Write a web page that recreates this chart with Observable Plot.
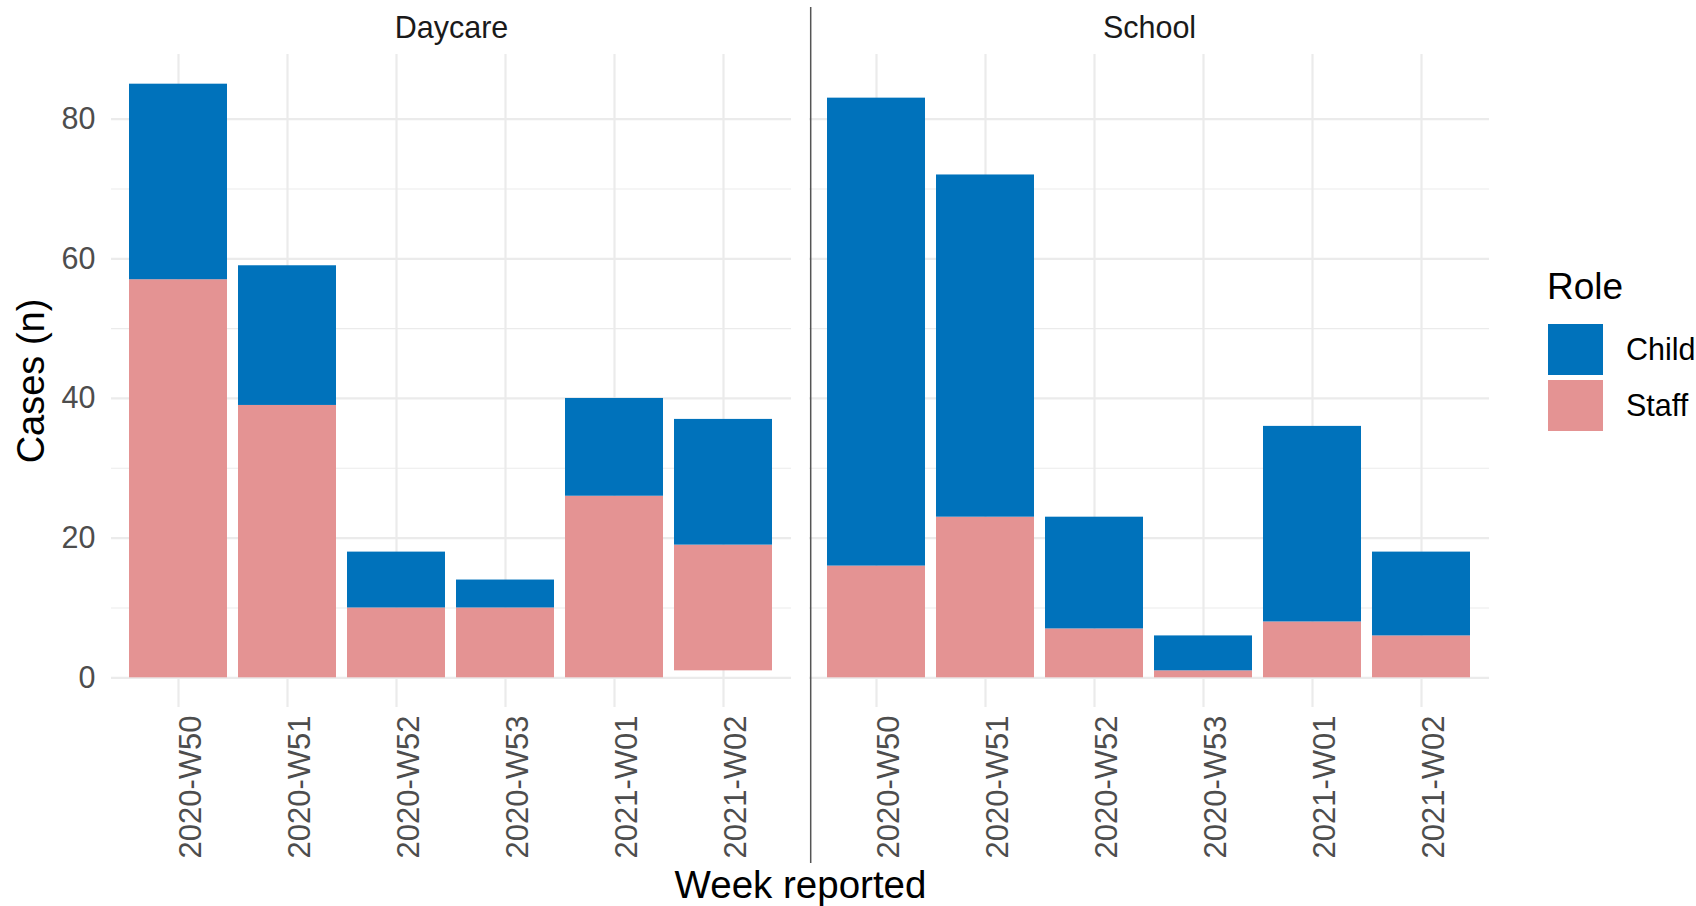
<!DOCTYPE html>
<html><head><meta charset="utf-8">
<script src="https://cdn.jsdelivr.net/npm/d3@7"></script>
<script src="https://cdn.jsdelivr.net/npm/@observablehq/plot@0.6"></script>
<style>
html,body{margin:0;padding:0;background:#fff;}
#wrap{position:relative;width:1696px;height:906px;font-family:"Liberation Sans",Arial,sans-serif;}
#wrap svg{position:absolute;left:0;top:0;}
.lg{position:absolute;white-space:nowrap;}
</style></head><body><div id="wrap"></div>
<script>
// ---- data ----
const settings = ["Daycare", "School"];
const weeks = ["2020-W50", "2020-W51", "2020-W52", "2020-W53", "2021-W01", "2021-W02"];
const legendRoles = ["Child", "Staff"];
const stackOrder = ["Not reported", "Staff", "Child"];
const daycareNotReported = [0, 0, 0, 0, 0, 1];
const daycareStaff = [57, 39, 10, 10, 26, 18];
const daycareChild = [28, 20, 8, 4, 14, 18];
const schoolNotReported = [0, 0, 0, 0, 0, 0];
const schoolStaff = [16, 23, 7, 1, 8, 6];
const schoolChild = [67, 49, 16, 5, 28, 12];
const yMajorTicks = [0, 20, 40, 60, 80];
const yMinorTicks = [10, 30, 50, 70];

const childColor = "#0072bb";
const staffColor = "#e49393";

const series = {
  Daycare: {"Not reported": daycareNotReported, Staff: daycareStaff, Child: daycareChild},
  School: {"Not reported": schoolNotReported, Staff: schoolStaff, Child: schoolChild}
};
const data = [];
for (const s of settings) for (const r of stackOrder) weeks.forEach((w, i) => {
  data.push({setting: s, week: w, role: r, n: series[s][r][i]});
});

// ---- layout ----
const W = 1696, H = 906, mL = 111, mR = 207, mT = 54, mB = 199;
const facetGap = 18;
const facetStep = ((W - mL - mR) + facetGap) / 2;
const facetBand = facetStep - facetGap;
const catStep = facetBand / 6.2;
const gridColor = "#ebebeb";
const smallFont = 30.5, bigFont = 38.5;

const chart = Plot.plot({
  width: W, height: H,
  marginLeft: mL, marginRight: mR, marginTop: mT, marginBottom: mB,
  style: {fontFamily: "'Liberation Sans', Arial, sans-serif", fontSize: smallFont + "px", background: "white"},
  fx: {domain: settings, paddingInner: facetGap / facetStep, paddingOuter: 0, label: null},
  x: {domain: weeks, paddingInner: 0.1, paddingOuter: 0.15, label: null},
  y: {domain: [-4.25, 89.25], label: null},
  color: {domain: stackOrder, range: ["transparent", staffColor, childColor]},
  marks: [
    Plot.gridY(yMinorTicks, {stroke: gridColor, strokeOpacity: 1, strokeWidth: 1.1}),
    Plot.gridY(yMajorTicks, {stroke: gridColor, strokeOpacity: 1, strokeWidth: 2.2}),
    Plot.gridX({stroke: gridColor, strokeOpacity: 1, strokeWidth: 2.2}),
    Plot.barY(data, {fx: "setting", x: "week", y: "n", fill: "role", order: stackOrder}),
    Plot.axisY(yMajorTicks, {tickSize: 0, tickPadding: 16, fill: "#4d4d4d", fontSize: smallFont, label: null}),
    Plot.axisY([], {label: "Cases (n)", labelAnchor: "center", labelArrow: "none", labelOffset: 94, fontSize: 38, fill: "#000"}),
    Plot.axisX({tickSize: 0, tickRotate: -90, tickPadding: 8, dx: 13, fill: "#4d4d4d", fontSize: 31, label: null}),
    Plot.axisX([], {label: "Week reported", labelAnchor: "center", labelArrow: "none", labelOffset: 190, fontSize: bigFont, fill: "#000"}),
    Plot.axisFx({anchor: "top", tickSize: 0, tickPadding: 17, fontSize: smallFont, fill: "#1a1a1a", label: null}),
    Plot.ruleX([{setting: settings[1], week: weeks[0]}], {fx: "setting", x: "week", dx: -0.6 * catStep, insetTop: -47, insetBottom: -156, stroke: "#555", strokeWidth: 1.5})
  ]
});
const wrap = document.getElementById("wrap");
wrap.appendChild(chart);

// ---- legend ----
const lg = d3.select(wrap);
lg.append("div").attr("class", "lg").style("left", "1547px").style("top", "268px")
  .style("font-size", "37px").style("line-height", "37px").style("color", "#000").text("Role");
const legendColors = {Child: childColor, Staff: staffColor};
legendRoles.forEach((r, i) => {
  const top = 324 + i * 56;
  lg.append("div").attr("class", "lg").style("left", "1548px").style("top", top + "px")
    .style("width", "55px").style("height", "51px").style("background", legendColors[r]);
  lg.append("div").attr("class", "lg").style("left", "1626px").style("top", top + "px")
    .style("height", "51px").style("line-height", "51px").style("font-size", smallFont + "px").style("color", "#000").text(r);
});
</script></body></html>
